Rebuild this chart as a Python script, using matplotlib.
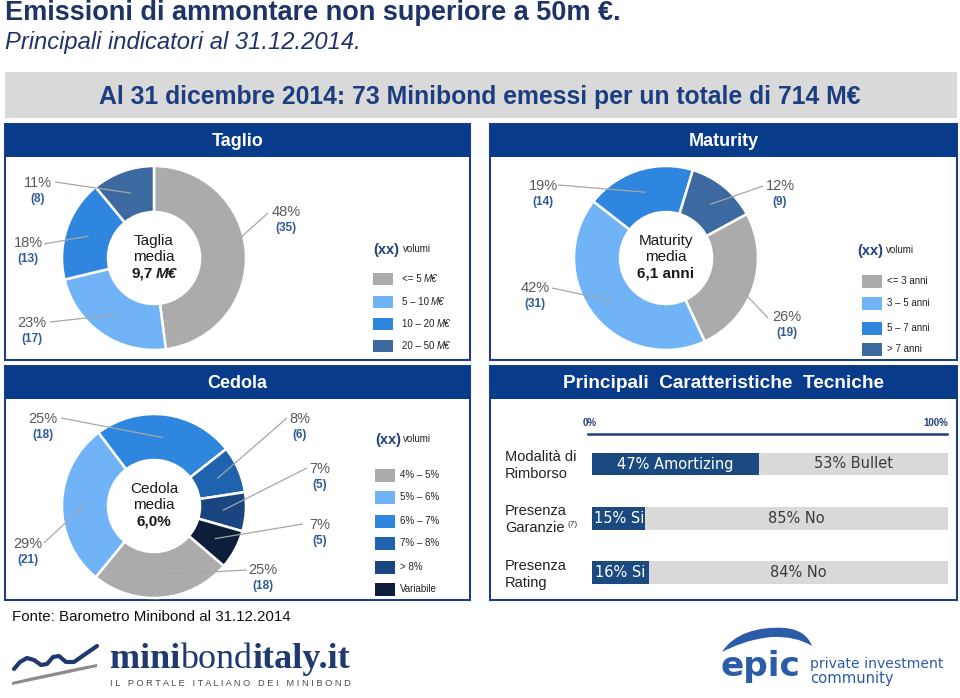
import matplotlib
matplotlib.use('Agg')
import matplotlib.pyplot as plt
from matplotlib.patches import Rectangle, PathPatch
from matplotlib.path import Path
from matplotlib import font_manager
import numpy as np

# ---------------- data ----------------
title = "Emissioni di ammontare non superiore a 50m €."
subtitle = "Principali indicatori al 31.12.2014."
banner = "Al 31 dicembre 2014: 73 Minibond emessi per un totale di 714 M€"
footer = "Fonte: Barometro Minibond al 31.12.2014"

taglio_labels = ["<= 5 M€", "5 – 10 M€", "10 – 20 M€", "20 – 50 M€"]
taglio_counts = [35, 17, 13, 8]
taglio_pct = [48, 23, 18, 11]
taglio_center = ["Taglia", "media", "9,7", "M€"]

maturity_labels = ["<= 3 anni", "3 – 5 anni", "5 – 7 anni", "> 7 anni"]
maturity_counts = [19, 31, 14, 9]
maturity_pct = [26, 42, 19, 12]
maturity_center = ["Maturity", "media", "6,1 anni"]

cedola_labels = ["4% – 5%", "5% – 6%", "6% – 7%", "7% – 8%", "> 8%", "Variabile"]
cedola_counts = [18, 21, 18, 6, 5, 5]
cedola_pct = [25, 29, 25, 8, 7, 7]
cedola_center = ["Cedola", "media", "6,0%"]

tech_categories = ["Modalità di\nRimborso", "Presenza\nGaranzie", "Presenza\nRating"]
tech_yes = [47, 15, 16]
tech_no = [53, 85, 84]
tech_yes_labels = ["Amortizing", "Si", "Si"]
tech_no_labels = ["Bullet", "No", "No"]

# ---------------- style ----------------
W, H = 960, 698
available = {f.name for f in font_manager.fontManager.ttflist}
SANS = 'Liberation Sans' if 'Liberation Sans' in available else 'DejaVu Sans'
NARROW = 'Liberation Sans Narrow' if 'Liberation Sans Narrow' in available else SANS
SERIF = 'Liberation Serif' if 'Liberation Serif' in available else 'DejaVu Serif'

HDR = '#083B8A'
BORDER = '#1F3F7F'
TXT_NAVY = '#1F3466'
GRAY_S = '#ABABAB'
LIGHT = '#70B4F7'
MED = '#2E86DE'
STEEL = '#3C699F'
C78 = '#1F62AE'
C8 = '#1A4581'
CVAR = '#0C1E3A'
PCT_COL = '#595959'
CNT_COL = '#2F5A94'
LEAD = '#A6A6A6'
BAR_DARK = '#1B4A80'
BAR_LIGHT = '#D9D9D9'

fig = plt.figure(figsize=(9.6, 6.98), dpi=100)
fig.patch.set_facecolor('white')
renderer = fig.canvas.get_renderer()

ax = fig.add_axes([0, 0, 1, 1])
ax.set_xlim(0, W); ax.set_ylim(H, 0); ax.axis('off')


def fit(axis, x, y, s, width, **kw):
    t = axis.text(x, y, s, fontsize=20, **kw)
    w = t.get_window_extent(renderer).width
    t.set_fontsize(20 * width / w)
    return t


def pieces(axis, x, y, parts, ha='left', gap=0.0, **common):
    texts, widths = [], []
    for s, kw in parts:
        opts = dict(common); opts.update(kw)
        t = axis.text(0, y, s, ha='left', **opts)
        widths.append(t.get_window_extent(renderer).width)
        texts.append(t)
    total = sum(widths) + gap * (len(parts) - 1)
    cur = x - total / 2 if ha == 'center' else x
    for t, w in zip(texts, widths):
        t.set_x(cur)
        cur += w + gap
    return texts, total


# ---------------- titles / banner ----------------
fit(ax, 5, 13, title, 617, family=NARROW, fontweight='bold', color=TXT_NAVY, va='center')
fit(ax, 5, 42, subtitle, 355, family=NARROW, style='italic', color=TXT_NAVY, va='center')
ax.add_patch(Rectangle((5, 72), 952, 46, color='#D9D9D9', lw=0))
fit(ax, 480, 97, banner, 760, family=NARROW, fontweight='bold', color='#1C3E80',
    va='center', ha='center')

# ---------------- panels ----------------
panels = [(5, 124, 470, 360, 'Taglio', None), (490, 124, 957, 360, 'Maturity', None),
          (5, 366, 470, 600, 'Cedola', None),
          (490, 366, 957, 600, 'Principali  Caratteristiche  Tecniche', 320)]
for x0, y0, x1, y1, name, wfit in panels:
    ax.add_patch(Rectangle((x0, y0), x1 - x0, y1 - y0, fill=False, ec=BORDER, lw=1.5))
    ax.add_patch(Rectangle((x0, y0), x1 - x0, 33, color=HDR, lw=0))
    if wfit:
        fit(ax, (x0 + x1) / 2, y0 + 17, name, wfit, family=SANS, fontweight='bold',
            color='white', ha='center', va='center')
    else:
        ax.text((x0 + x1) / 2, y0 + 17, name, family=SANS, fontweight='bold', fontsize=13,
                color='white', ha='center', va='center')

# ---------------- pies ----------------
R = 92


def draw_pie(cx, cy, counts, colors, startangle):
    rr = R * 1.02
    pax = fig.add_axes([(cx - rr) / W, 1 - (cy + rr) / H, 2 * rr / W, 2 * rr / H])
    wedges, _ = pax.pie(counts, colors=colors, startangle=startangle, counterclock=False,
                        radius=1, wedgeprops=dict(width=0.5, edgecolor='white', linewidth=1.8))
    pax.set_xlim(-1.02, 1.02); pax.set_ylim(-1.02, 1.02)
    pax.set_aspect('equal'); pax.axis('off')
    return wedges


taglio_colors = [GRAY_S, LIGHT, MED, STEEL]
maturity_colors = [GRAY_S, LIGHT, MED, STEEL]
cedola_colors = [GRAY_S, LIGHT, MED, C78, C8, CVAR]

tw = draw_pie(154, 258, taglio_counts, taglio_colors, 90)
mw = draw_pie(666, 258, maturity_counts, maturity_colors, 90 - 61.4)
cw = draw_pie(154, 506, cedola_counts, cedola_colors, 90 - 130.6)

# ---------------- bars ----------------
bar_top, bar_step = 464, 54.25
bax = fig.add_axes([592 / W, 1 - (572.5 + bar_step / 2) / H, (948 - 592) / W,
                    (572.5 - 464 + bar_step) / H])
pos = np.arange(len(tech_categories))
bax.barh(pos, tech_yes, height=0.42, color=BAR_DARK, lw=0)
bax.barh(pos, tech_no, left=tech_yes, height=0.42, color=BAR_LIGHT, lw=0)
bax.set_xlim(0, 100); bax.set_ylim(len(pos) - 0.5, -0.5); bax.axis('off')
for i in pos:
    bax.text(tech_yes[i] / 2, i, f"{tech_yes[i]}% {tech_yes_labels[i]}", color='white',
             ha='center', va='center', fontsize=10.5, family='DejaVu Sans')
    bax.text(tech_yes[i] + tech_no[i] / 2, i, f"{tech_no[i]}% {tech_no_labels[i]}",
             color='#3A3A3A', ha='center', va='center', fontsize=10.5, family='DejaVu Sans')

# ---------------- overlay ----------------
top = fig.add_axes([0, 0, 1, 1])
top.set_xlim(0, W); top.set_ylim(H, 0); top.axis('off'); top.patch.set_alpha(0)


def annotate_pie(wedges, cx, cy, pcts, counts, spots):
    for w, p, c, (tx, ty, lx, ly) in zip(wedges, pcts, counts, spots):
        th = np.deg2rad((w.theta1 + w.theta2) / 2)
        ix, iy = cx + 0.75 * R * np.cos(th), cy - 0.75 * R * np.sin(th)
        top.plot([lx, ix], [ly, iy], color=LEAD, lw=0.9, solid_capstyle='butt')
        top.text(tx, ty, f"{p}%", color=PCT_COL, fontsize=10.5, family=SANS,
                 ha='center', va='center')
        top.text(tx, ty + 16, f"({c})", color=CNT_COL, fontsize=8.5, family=SANS,
                 fontweight='bold', ha='center', va='center')


annotate_pie(tw, 154, 258, taglio_pct, taglio_counts,
             [(286, 212, 268, 213), (32, 323, 50, 322), (28, 243, 44, 244), (38, 183, 55, 182)])
annotate_pie(mw, 666, 258, maturity_pct, maturity_counts,
             [(787, 317, 768, 318), (535, 288, 552, 288), (543, 186, 558, 185), (780, 186, 763, 186)])
annotate_pie(cw, 154, 506, cedola_pct, cedola_counts,
             [(263, 570, 247, 570), (28, 544, 44, 543), (43, 419, 61, 418),
              (300, 419, 287, 418), (320, 469, 307, 468), (320, 525, 303, 524)])

CT = '#1A1A1A'
CFS = 11
for cx, cy, lines in [(666, 258, maturity_center), (154, 506, cedola_center)]:
    top.text(cx, cy - 17, lines[0], fontsize=CFS, family=SANS, color=CT, ha='center', va='center')
    top.text(cx, cy - 1, lines[1], fontsize=CFS, family=SANS, color=CT, ha='center', va='center')
    top.text(cx, cy + 16, lines[2], fontsize=CFS, family=SANS, color=CT, ha='center',
             va='center', fontweight='bold')
top.text(154, 241, taglio_center[0], fontsize=CFS, family=SANS, color=CT, ha='center', va='center')
top.text(154, 257, taglio_center[1], fontsize=CFS, family=SANS, color=CT, ha='center', va='center')
pieces(top, 154, 274, [(taglio_center[2], {}), (taglio_center[3], {'style': 'italic'})],
       ha='center', gap=3.5, fontsize=CFS, family=SANS, color=CT, fontweight='bold', va='center')


def legend(xx_x, xx_y, vol_x, sw_x, sw_ys, sw_h, lab_x, labels, colors):
    top.text(xx_x, xx_y, "(xx)", fontsize=10.5, fontweight='bold', color=BORDER, family=SANS,
             va='center')
    top.text(vol_x, xx_y - 1, "volumi", fontsize=7, color='#222222', family=SANS, va='center')
    for y, lab, c in zip(sw_ys, labels, colors):
        top.add_patch(Rectangle((sw_x, y - sw_h / 2), 20, sw_h, color=c, lw=0))
        if lab.endswith(" M€"):
            pieces(top, lab_x, y, [(lab[:-3], {}), ("M€", {'style': 'italic'})], gap=2.2,
                   fontsize=7, family=SANS, color='#222222', va='center')
        else:
            top.text(lab_x, y, lab, fontsize=7, family=SANS, color='#222222', va='center')


legend(373, 250, 403, 373, [279, 302, 324, 346], 12, 402, taglio_labels, taglio_colors)
legend(857, 251, 886, 862, [281, 303, 328, 349], 13, 887, maturity_labels, maturity_colors)
legend(375, 440, 403, 375, [475, 497, 521, 543, 567, 589], 13, 400, cedola_labels, cedola_colors)

# tech panel labels
top.text(583, 423, "0%", fontsize=7, fontweight='bold', color=BORDER, family=SANS, va='center')
top.text(948, 423, "100%", fontsize=7, fontweight='bold', color=BORDER, family=SANS,
         va='center', ha='right')
top.plot([588, 947], [434, 434], color=BORDER, lw=1.8)
for i, cat in enumerate(tech_categories):
    yc = bar_top + bar_step * i
    l1, l2 = cat.split("\n")
    top.text(505, yc - 7, l1, fontsize=10.5, family=SANS, color='#222222', va='center')
    t2 = top.text(505, yc + 10, l2, fontsize=10.5, family=SANS, color='#222222', va='center')
    if l2 == "Garanzie":
        wv = t2.get_window_extent(renderer).width
        top.text(505 + wv + 3, yc + 6, "(7)", fontsize=6, family=SANS, color='#222222',
                 va='center')

# footer
fit(top, 12, 617, footer, 278, family=NARROW, color='#111111', va='center')

# ---------------- logos ----------------
LOGO_NAVY = '#1F3A70'
logo_parts = [("mini", {'fontweight': 'bold'}), ("bond", {}), ("italy.it", {'fontweight': 'bold'})]
probe, total = pieces(top, 110, 660, logo_parts, fontsize=20, family=SERIF,
                      color=LOGO_NAVY, va='center')
for t in probe:
    t.remove()
pieces(top, 110, 660, logo_parts, fontsize=20 * 240 / total, family=SERIF,
       color=LOGO_NAVY, va='center')
fit(top, 110, 683, "I L   P O R T A L E   I T A L I A N O   D E I   M I N I B O N D", 240,
    family=SANS, color='#4A4A4A', va='center')
wave_x = [14, 20, 27, 34, 41, 47, 53, 59, 66, 74, 84, 97]
wave_y = [669, 662, 658, 660, 665, 664, 657, 656, 662, 662, 655, 646]
top.plot(wave_x, wave_y, color=LOGO_NAVY, lw=3, solid_capstyle='round')
swoosh = Path([(12, 682), (50, 673), (97, 664), (97, 667), (50, 677), (12, 685), (12, 682)],
              [Path.MOVETO, Path.CURVE3, Path.CURVE3, Path.LINETO, Path.CURVE3, Path.CURVE3,
               Path.CLOSEPOLY])
top.add_patch(PathPatch(swoosh, color='#8C8C8C', lw=0))

EPIC = '#2B5CA8'
fit(top, 721, 676, "epic", 80, family='DejaVu Sans', fontweight='bold', color=EPIC,
    va='baseline')
fit(top, 810, 664, "private investment", 133, family='DejaVu Sans', color=EPIC, va='center')
fit(top, 810, 678, "community", 83, family='DejaVu Sans', color=EPIC, va='center')
wing = Path([(722, 652), (733, 634), (758, 626), (785, 628),
             (806, 630), (812, 646),
             (796, 636), (772, 637),
             (750, 639), (734, 646), (722, 652)],
            [Path.MOVETO, Path.CURVE4, Path.CURVE4, Path.CURVE4,
             Path.CURVE3, Path.CURVE3,
             Path.CURVE3, Path.CURVE3,
             Path.CURVE4, Path.CURVE4, Path.CURVE4])
top.add_patch(PathPatch(wing, color=EPIC, lw=0))

fig.savefig('out.png', dpi=100, facecolor='white')
